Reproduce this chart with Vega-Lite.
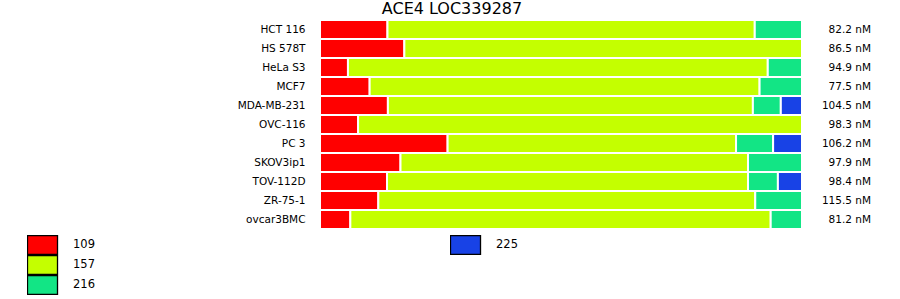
{
  "$schema": "https://vega.github.io/schema/vega-lite/v6.json",
  "autosize": {"type": "none"},
  "width": 482,
  "height": 209,
  "padding": {"left": 320, "top": 20, "right": 98, "bottom": 70},
  "config": {
    "view": {"stroke": null},
    "font": "DejaVu Sans",
    "background": "white"
  },
  "title": {
    "text": "ACE4 LOC339287",
    "fontSize": 16,
    "fontWeight": "normal",
    "font": "DejaVu Sans",
    "color": "black",
    "anchor": "middle",
    "dx": -109,
    "dy": 17,
    "offset": 3,
    "baseline": "bottom"
  },
  "data": {
    "values": [
      {"cell": "HCT 116", "cat": "109", "v": 14.0},
      {"cell": "HCT 116", "cat": "157", "v": 76.2},
      {"cell": "HCT 116", "cat": "216", "v": 9.8},
      {"cell": "HS 578T", "cat": "109", "v": 17.5},
      {"cell": "HS 578T", "cat": "157", "v": 82.5},
      {"cell": "HeLa S3", "cat": "109", "v": 5.8},
      {"cell": "HeLa S3", "cat": "157", "v": 87.1},
      {"cell": "HeLa S3", "cat": "216", "v": 7.1},
      {"cell": "MCF7", "cat": "109", "v": 10.3},
      {"cell": "MCF7", "cat": "157", "v": 80.9},
      {"cell": "MCF7", "cat": "216", "v": 8.8},
      {"cell": "MDA-MB-231", "cat": "109", "v": 14.1},
      {"cell": "MDA-MB-231", "cat": "157", "v": 75.8},
      {"cell": "MDA-MB-231", "cat": "216", "v": 5.8},
      {"cell": "MDA-MB-231", "cat": "225", "v": 4.4},
      {"cell": "OVC-116", "cat": "109", "v": 7.9},
      {"cell": "OVC-116", "cat": "157", "v": 92.1},
      {"cell": "PC 3", "cat": "109", "v": 26.5},
      {"cell": "PC 3", "cat": "157", "v": 59.9},
      {"cell": "PC 3", "cat": "216", "v": 7.7},
      {"cell": "PC 3", "cat": "225", "v": 6.0},
      {"cell": "SKOV3ip1", "cat": "109", "v": 16.7},
      {"cell": "SKOV3ip1", "cat": "157", "v": 72.1},
      {"cell": "SKOV3ip1", "cat": "216", "v": 11.2},
      {"cell": "TOV-112D", "cat": "109", "v": 13.9},
      {"cell": "TOV-112D", "cat": "157", "v": 74.9},
      {"cell": "TOV-112D", "cat": "216", "v": 6.2},
      {"cell": "TOV-112D", "cat": "225", "v": 5.0},
      {"cell": "ZR-75-1", "cat": "109", "v": 12.1},
      {"cell": "ZR-75-1", "cat": "157", "v": 78.2},
      {"cell": "ZR-75-1", "cat": "216", "v": 9.7},
      {"cell": "ovcar3BMC", "cat": "109", "v": 6.3},
      {"cell": "ovcar3BMC", "cat": "157", "v": 87.3},
      {"cell": "ovcar3BMC", "cat": "216", "v": 6.5}
    ]
  },
  "transform": [
    {"stack": "v", "groupby": ["cell"], "sort": [{"field": "cat", "order": "ascending"}], "offset": "normalize", "as": ["x0", "x1"]}
  ],
  "encoding": {
    "y": {
      "field": "cell",
      "type": "nominal",
      "sort": ["HCT 116", "HS 578T", "HeLa S3", "MCF7", "MDA-MB-231", "OVC-116", "PC 3", "SKOV3ip1", "TOV-112D", "ZR-75-1", "ovcar3BMC"],
      "scale": {"paddingInner": 0, "paddingOuter": 0},
      "axis": {
        "title": null,
        "ticks": false,
        "domain": false,
        "labelPadding": 15,
        "labelFontSize": 10.5,
        "labelFont": "DejaVu Sans",
        "labelColor": "black"
      }
    }
  },
  "layer": [
    {
      "transform": [{"filter": "datum.cat != '225'"}],
      "mark": {"type": "bar", "stroke": "white", "strokeWidth": 2, "opacity": 1},
      "encoding": {
        "x": {"field": "x0", "type": "quantitative", "scale": {"domain": [0, 1], "nice": false, "zero": false}, "axis": null},
        "x2": {"field": "x1"},
        "color": {
          "field": "cat",
          "type": "nominal",
          "scale": {"domain": ["109", "157", "216"], "range": ["#ff0000", "#c4ff00", "#12e585"]},
          "legend": {
            "title": null,
            "orient": "none",
            "legendX": -293,
            "legendY": 215,
            "symbolType": "M-1.58,-1H1.58V1H-1.58Z",
            "symbolSize": 361,
            "symbolStrokeColor": "black",
            "symbolStrokeWidth": 1.3,
            "symbolOpacity": 1,
            "symbolOffset": 5,
            "clipHeight": 20,
            "rowPadding": 0,
            "labelFontSize": 11.5,
            "labelFont": "DejaVu Sans",
            "labelColor": "black",
            "labelOffset": 20
          }
        }
      }
    },
    {
      "transform": [{"filter": "datum.cat == '225'"}],
      "mark": {"type": "bar", "stroke": "white", "strokeWidth": 2, "opacity": 1},
      "encoding": {
        "x": {"field": "x0", "type": "quantitative", "scale": {"domain": [0, 1], "nice": false, "zero": false}, "axis": null},
        "x2": {"field": "x1"},
        "color": {
          "field": "cat",
          "type": "nominal",
          "scale": {"domain": ["225"], "range": ["#1842e6"]},
          "legend": {
            "title": null,
            "orient": "none",
            "legendX": 130,
            "legendY": 215,
            "symbolType": "M-1.58,-1H1.58V1H-1.58Z",
            "symbolSize": 361,
            "symbolStrokeColor": "black",
            "symbolStrokeWidth": 1.3,
            "symbolOpacity": 1,
            "symbolOffset": 5,
            "clipHeight": 20,
            "labelFontSize": 11.5,
            "labelFont": "DejaVu Sans",
            "labelColor": "black",
            "labelOffset": 20
          }
        }
      }
    },
    {
      "data": {
        "values": [
          {"cell": "HCT 116", "conc": "82.2 nM"},
          {"cell": "HS 578T", "conc": "86.5 nM"},
          {"cell": "HeLa S3", "conc": "94.9 nM"},
          {"cell": "MCF7", "conc": "77.5 nM"},
          {"cell": "MDA-MB-231", "conc": "104.5 nM"},
          {"cell": "OVC-116", "conc": "98.3 nM"},
          {"cell": "PC 3", "conc": "106.2 nM"},
          {"cell": "SKOV3ip1", "conc": "97.9 nM"},
          {"cell": "TOV-112D", "conc": "98.4 nM"},
          {"cell": "ZR-75-1", "conc": "115.5 nM"},
          {"cell": "ovcar3BMC", "conc": "81.2 nM"}
        ]
      },
      "mark": {"type": "text", "align": "right", "baseline": "middle", "dx": 69, "fontSize": 10.5, "font": "DejaVu Sans", "color": "black"},
      "encoding": {
        "x": {"datum": 1, "type": "quantitative"},
        "text": {"field": "conc"}
      }
    }
  ],
  "resolve": {"scale": {"color": "independent"}, "legend": {"color": "independent"}}
}
